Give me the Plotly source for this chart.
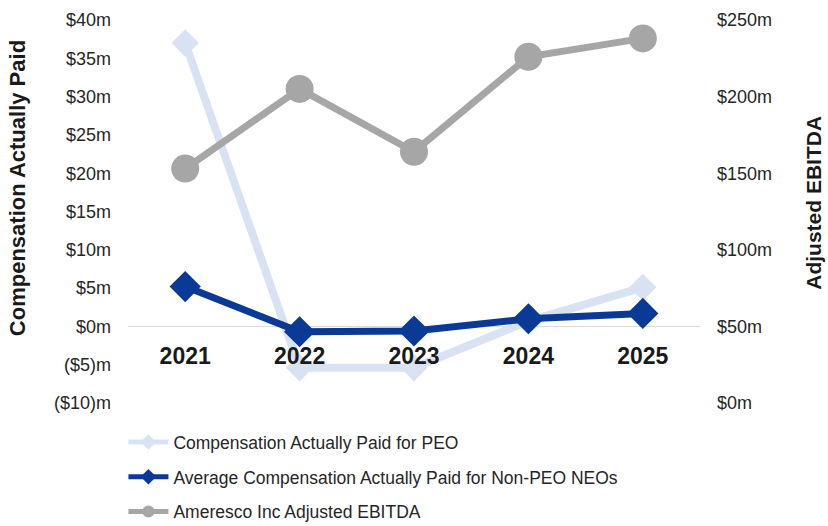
import plotly.graph_objects as go

years = ["2021", "2022", "2023", "2024", "2025"]
peo_cap = [37.0, -5.4, -5.4, 0.7, 5.1]          # $m, left axis
non_peo_cap = [5.2, -0.7, -0.6, 1.0, 1.7]       # $m, left axis
ebitda = [153, 205, 164, 226, 238]              # $m, right axis

left_tickvals = [-10, -5, 0, 5, 10, 15, 20, 25, 30, 35, 40]
left_ticktext = ["($10)m", "($5)m", "$0m", "$5m", "$10m", "$15m", "$20m", "$25m", "$30m", "$35m", "$40m"]
right_tickvals = [0, 50, 100, 150, 200, 250]
right_ticktext = ["$0m", "$50m", "$100m", "$150m", "$200m", "$250m"]

names = ["Compensation Actually Paid for PEO",
         "Average Compensation Actually Paid for Non-PEO NEOs",
         "Ameresco Inc Adjusted EBITDA"]
left_title = "Compensation Actually Paid"
right_title = "Adjusted EBITDA"

FONT = "Liberation Sans, Arial, sans-serif"
C_PEO = "#D9E2F3"
C_NEO = "#0B3A96"
C_EB = "#A6A6A6"

fig = go.Figure()
fig.add_trace(go.Scatter(
    x=years, y=peo_cap, name=names[0], mode="lines+markers",
    line=dict(color=C_PEO, width=8), marker=dict(symbol="diamond", size=21, color=C_PEO),
    legendgroup="a", yaxis="y"))
fig.add_trace(go.Scatter(
    x=years, y=non_peo_cap, name=names[1], mode="lines+markers",
    line=dict(color=C_NEO, width=7), marker=dict(symbol="diamond", size=24, color=C_NEO),
    legendgroup="b", yaxis="y"))
fig.add_trace(go.Scatter(
    x=years, y=ebitda, name=names[2], mode="lines+markers",
    line=dict(color=C_EB, width=7), marker=dict(symbol="circle", size=28, color=C_EB),
    legendgroup="c", yaxis="y2"))

fig.update_layout(
    width=828, height=526,
    margin=dict(l=128, r=128, t=20, b=123, autoexpand=False),
    paper_bgcolor="white", plot_bgcolor="white",
    font=dict(family=FONT, color="#262626", size=18),
    showlegend=True,
    legend=dict(
        x=-0.008, y=-0.055, xanchor="left", yanchor="top",
        orientation="v", font=dict(size=17.5, color="#262626"),
        tracegroupgap=9, itemwidth=40, itemsizing="constant",
        bgcolor="rgba(0,0,0,0)",
    ),
    xaxis=dict(
        type="category", range=[-0.5, 4.5], anchor="free", position=0.165,
        showline=False, showgrid=False, zeroline=False, ticks="",
        tickfont=dict(size=23, family=FONT, color="#1a1a1a", weight="bold"),
    ),
    yaxis=dict(
        range=[-10, 40], tickvals=left_tickvals, ticktext=left_ticktext,
        showgrid=False, showline=False, ticks="",
        zeroline=True, zerolinecolor="#D9D9D9", zerolinewidth=1,
        ticklabelstandoff=16, tickfont=dict(size=18),
        automargin=False,
    ),
    yaxis2=dict(
        range=[0, 250], tickvals=right_tickvals, ticktext=right_ticktext,
        overlaying="y", side="right", anchor="x",
        showgrid=False, showline=False, zeroline=False, ticks="",
        ticklabelstandoff=16, tickfont=dict(size=18),
        automargin=False,
    ),
    annotations=[
        dict(text=left_title, xref="paper", yref="paper", x=-0.194, y=0.561,
             xanchor="center", yanchor="middle", textangle=-90, showarrow=False,
             borderpad=0, font=dict(size=22, weight="bold", color="#1a1a1a")),
        dict(text=right_title, xref="paper", yref="paper", x=1.197, y=0.522,
             xanchor="center", yanchor="middle", textangle=-90, showarrow=False,
             borderpad=0, font=dict(size=21, weight="bold", color="#1a1a1a")),
    ],
)

fig.write_html("out.html")
